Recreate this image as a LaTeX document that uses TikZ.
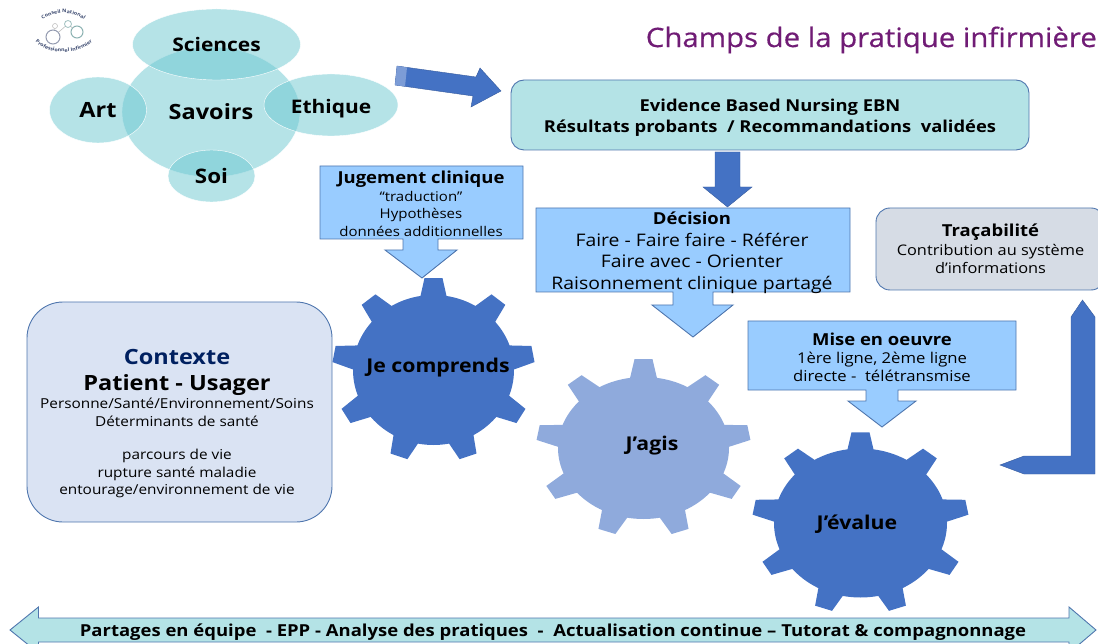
\documentclass[tikz,border=0pt]{standalone}
\usepackage{fontspec}
\setmainfont[FakeStretch=1.12]{Open Sans}
\newfontfamily\titlefam[FakeStretch=1.1,FakeBold=0.5]{Open Sans}
\usepackage{tikz}
\usetikzlibrary{shapes.geometric}
\usetikzlibrary{decorations.text}
\definecolor{gearblue}{HTML}{4472C4}
\definecolor{gearlight}{HTML}{8FAADC}
\definecolor{calloutblue}{HTML}{99CCFF}
\definecolor{edgeblue}{HTML}{4F76AE}
\definecolor{tealfill}{HTML}{B4E3E6}
\definecolor{tealsoft}{rgb}{0.42,0.78,0.815}
\definecolor{contextfill}{HTML}{DAE3F3}
\definecolor{tracefill}{HTML}{D6DCE5}
\definecolor{titlepurple}{HTML}{701C75}
\definecolor{navy}{HTML}{002060}
\definecolor{logoink}{HTML}{3C4A70}
\newcommand{\fsize}[2]{\fontsize{#1}{#2}\selectfont}
\newcommand{\gearteeth}[5]{%
  \foreach \a in {90,130,...,410}
    \fill[#5,shift={(#1.center)},yscale=#4,rotate=\a]
      (#3-4,-14) -- (#2,-9) -- (#2,9) -- (#3-4,14) -- cycle;
}
\tikzset{
    savoir/.style = {ellipse, draw=white, fill=tealsoft, fill opacity=0.5, text opacity=1, inner sep=0pt, font=\fsize{18.7}{22}\bfseries},
    callout/.style = {draw=edgeblue, fill=calloutblue, line width=0.9pt, line join=miter},
    bluearrow/.style = {fill=gearblue, draw=gearblue!80!black, line width=0.4pt},
    gearbody/.style = {ellipse, inner sep=0pt},
    gearlabel/.style = {font=\fsize{19}{22}\bfseries, inner sep=0pt},
    smalltxt/.style = {align=center, inner sep=0pt, font=\fsize{13.4}{18}},
    roundbox/.style = {rectangle, draw=edgeblue, line width=0.9pt, align=center, inner sep=0pt},
    logoarc/.style = {decorate, decoration={text along path, text align=center, text color=logoink, text={#1}}},
}
\begin{document}
\begin{tikzpicture}[x=1pt,y=-1pt]
\useasboundingbox (0,0) rectangle (1098,644);
% logo
\path[logoarc={|\fsize{4.8}{6}\bfseries|Conseil National}] (37,25) .. controls (50,9) and (76,9) .. (90,25);
\path[logoarc={|\fsize{4.8}{6}\bfseries|Professionnel Infirmier}] (32,37) .. controls (42,57) and (85,57) .. (96,37);
\node[circle, draw=logoink!55, line width=1pt, minimum size=14pt, inner sep=0pt] (logoa) at (53,37) {};
\node[circle, draw=teal!50!gray!60, line width=1pt, minimum size=12pt, inner sep=0pt] (logob) at (77,32) {};
\node[circle, draw=teal!50!gray!50, line width=0.8pt, minimum size=7pt, inner sep=0pt] (logoc) at (68,24) {};
\node[circle, draw=gray!50, line width=0.6pt, minimum size=5pt, inner sep=0pt] (logod) at (55,26) {};
\draw[gray!50, line width=0.6pt] (logoa) -- (logoc);
\draw[gray!50, line width=0.6pt] (logoa) -- (logod);
\draw[gray!50, line width=0.6pt] (logoc) -- (logob);
% savoirs
\node[savoir, minimum width=178pt, minimum height=130pt] (savoirs) at (211,112) {\fsize{21}{24}Savoirs};
\node[savoir, minimum width=168pt, minimum height=71pt] (sciences) at (216.5,44.5) {Sciences};
\node[savoir, minimum width=97pt, minimum height=66pt] (art) at (98,110) {\fsize{21}{24}Art};
\node[savoir, minimum width=134pt, minimum height=62pt] (ethique) at (331,105) {\raisebox{-9pt}[0pt][0pt]{Ethique}};
\node[savoir, minimum width=87pt, minimum height=52pt] (soi) at (211.5,176) {\fsize{20}{22}Soi};
% titre
\node[anchor=east, inner sep=0pt, text=titlepurple, font=\titlefam\fsize{26.7}{30}] (titre) at (1097,40) {Champs de la pratique infirmière};
% EBN
\draw[bluearrow] (397,66) -- (476,77) -- (480,68) -- (501,91) -- (471,107) -- (473,96) -- (395,85) -- cycle;
\fill[gearblue!70!white] (397,66) -- (407,67.5) -- (405,86.5) -- (395,85) -- cycle;
\node[roundbox, fill=tealfill, rounded corners=13pt, minimum width=518pt, minimum height=70pt] (ebn) at (770,115) {};
\node[smalltxt, font=\fsize{16.4}{21}\bfseries] (ebntxt) at (770,118) {Evidence Based Nursing EBN\\Résultats probants~ / Recommandations~ validées};
\draw[bluearrow] (715,152) -- (740,152) -- (740,187) -- (752,187) -- (727.5,207) -- (703,187) -- (715,187) -- cycle;
% jugement
\draw[callout] (320,166) -- (523,166) -- (523,239) -- (438,239) -- (438,250) -- (457,250) -- (422,278) -- (385,250) -- (403,250) -- (403,239) -- (320,239) -- cycle;
\node[smalltxt, font=\fsize{13.4}{17.5}] (jugement) at (421,204) {{\fsize{16.5}{17.5}\bfseries Jugement clinique}\\“traduction”\\Hypothèses\\données additionnelles};
% decision
\draw[callout] (536,208) -- (850,208) -- (850,292) -- (713,292) -- (713,305) -- (733,305) -- (693,337) -- (652,305) -- (673,305) -- (673,292) -- (536,292) -- cycle;
\node[smalltxt, font=\fsize{17.3}{21.5}] (decision) at (692,253) {{\fsize{16.5}{21.5}\bfseries Décision}\\Faire - Faire faire - Référer\\Faire avec - Orienter\\Raisonnement clinique partagé};
% mise en oeuvre
\draw[callout] (748,321) -- (1016,321) -- (1016,390) -- (898,390) -- (898,401) -- (916,401) -- (882,427) -- (848,401) -- (866,401) -- (866,390) -- (748,390) -- cycle;
\node[smalltxt, font=\fsize{14.9}{18}] (mise) at (882,357) {{\fsize{16.5}{18}\bfseries Mise en oeuvre}\\1ère ligne, 2ème ligne\\directe -~ télétransmise};
% tracabilite
\node[roundbox, fill=tracefill, rounded corners=14pt, minimum width=229pt, minimum height=82pt, font=\fsize{14.6}{18.5}] (trace) at (990.5,249) {{\fsize{16.5}{18}\bfseries Traçabilité}\\Contribution au système\\d’informations};
\draw[bluearrow] (1082.5,300) -- (1095,317) -- (1095,474) -- (1024,474) -- (1000,465) -- (1024,456) -- (1071,456) -- (1071,317) -- cycle;
% contexte
\node[roundbox, fill=contextfill, rounded corners=36pt, minimum width=305pt, minimum height=220pt] (contexte) at (179.5,412) {};
\node[smalltxt, font=\fsize{13.7}{17.5}] (contextetxt) at (177,424) {{\fsize{21}{25}\bfseries\color{navy}Contexte}\\[8pt]{\fsize{21}{25}\bfseries Patient - Usager}\\[1pt]Personne/Santé/Environnement/Soins\\Déterminants de santé\\[16pt]parcours de vie\\rupture santé maladie\\entourage/environnement de vie};
% engrenages
\node[gearbody, fill=gearblue, minimum width=161pt, minimum height=150pt] (comprends) at (433.5,370) {};
\gearteeth{comprends}{101}{80.5}{0.91}{gearblue}
\node[gearlabel] (comprendstxt) at (438,368) {Je comprends};
\node[gearbody, fill=gearlight, minimum width=171pt, minimum height=142pt] (agis) at (643.5,448) {};
\gearteeth{agis}{107}{85.5}{0.83}{gearlight}
\node[gearlabel] (agistxt) at (652,446) {J’agis};
\node[gearbody, fill=gearblue, minimum width=173pt, minimum height=149pt] (evalue) at (860.5,523) {};
\gearteeth{evalue}{108}{86.5}{0.84}{gearblue}
\node[gearlabel] (evaluetxt) at (857,524) {J’évalue};
% bandeau
\draw[draw=edgeblue, fill=tealfill, line width=0.9pt] (10,630) -- (38.5,607) -- (38.5,618) -- (1069,618) -- (1069,607) -- (1096,630) -- (1069,653) -- (1069,642) -- (38.5,642) -- (38.5,653) -- cycle;
\node[inner sep=0pt, font=\fsize{16.5}{18}\bfseries] (partages) at (553,632) {Partages en équipe~ - EPP - Analyse des pratiques~ -~ Actualisation continue – Tutorat \& compagnonnage};
\end{tikzpicture}
\end{document}
